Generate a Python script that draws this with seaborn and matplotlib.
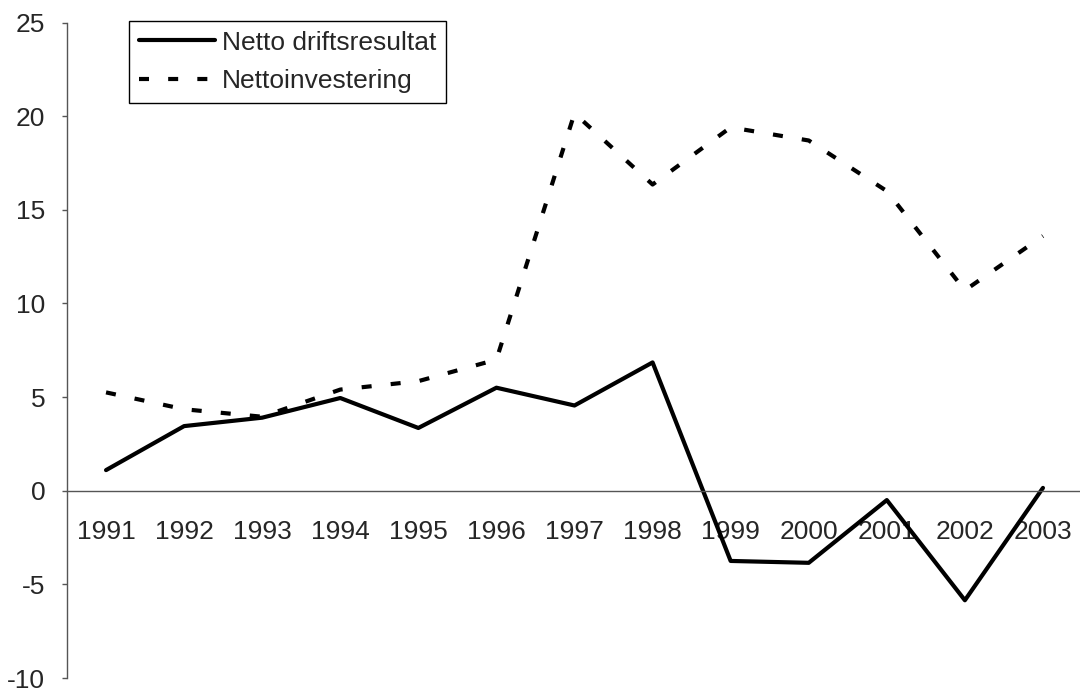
import matplotlib
matplotlib.use("Agg")
import matplotlib.pyplot as plt
import seaborn as sns
import pandas as pd
import numpy as np

years = ["1991", "1992", "1993", "1994", "1995", "1996", "1997",
         "1998", "1999", "2000", "2001", "2002", "2003"]
netto_drift = [1.1, 3.45, 3.9, 4.95, 3.35, 5.5, 4.55, 6.85, -3.75, -3.85, -0.5, -5.85, 0.15]
netto_inv = [5.25, 4.35, 3.95, 5.4, 5.85, 7.0, 20.15, 16.35, 19.4, 18.7, 16.0, 10.7, 13.6]
series_names = ["Netto driftsresultat", "Nettoinvestering"]
y_ticks = [-10, -5, 0, 5, 10, 15, 20, 25]

sns.set_style("white")
plt.rcParams['font.family'] = ['Liberation Sans', 'DejaVu Sans']

df = pd.DataFrame({
    "year": years * 2,
    "value": netto_drift + netto_inv,
    "series": [series_names[0]] * len(years) + [series_names[1]] * len(years),
})

fig = plt.figure(figsize=(10.8, 6.91), dpi=100)
ax = fig.add_axes([67 / 1080, 1 - 678 / 691, 1015 / 1080, 655.5 / 691])

sns.lineplot(data=df, x="year", y="value", style="series",
             dashes={series_names[0]: "", series_names[1]: (2.4, 4.6)},
             color="black", linewidth=3, ax=ax, sort=False)

ax.set_xlim(-0.5, len(years) - 0.5)
ax.set_ylim(-10, 25)
ax.set_yticks(y_ticks)
ax.set_yticklabels([str(t) for t in y_ticks])
ax.set_xlabel("")
ax.set_ylabel("")

for s in ["top", "right"]:
    ax.spines[s].set_visible(False)
ax.spines["bottom"].set_position(("data", 0))
for s in ["bottom", "left"]:
    ax.spines[s].set_color("#555555")
    ax.spines[s].set_linewidth(1.0)

ax.set_xticks(range(len(years)))
ax.set_xticklabels(years)
ax.set_xticks(np.arange(0.5, len(years) - 1, 1.0), minor=True)
ax.tick_params(axis="x", which="major", length=0, pad=21, labelsize=19)
ax.tick_params(axis="x", which="minor", length=5, width=1, color="#555555", direction="out")
ax.tick_params(axis="y", which="major", length=3.6, width=1, color="#555555",
               direction="out", pad=12, labelsize=19, left=True)

handles, labels = ax.get_legend_handles_labels()
leg = ax.legend(handles, labels, loc="upper left",
                bbox_to_anchor=(129 / 1080, 1 - 21 / 691), bbox_transform=fig.transFigure,
                frameon=True, fancybox=False, edgecolor="black", framealpha=1,
                fontsize=19, handlelength=2.9, handletextpad=0.27, labelspacing=0.55,
                borderpad=0.36, borderaxespad=0)
leg.get_frame().set_linewidth(1.0)
for h in leg.get_lines():
    h.set_linewidth(3)

fig.savefig("out.png", dpi=100)
